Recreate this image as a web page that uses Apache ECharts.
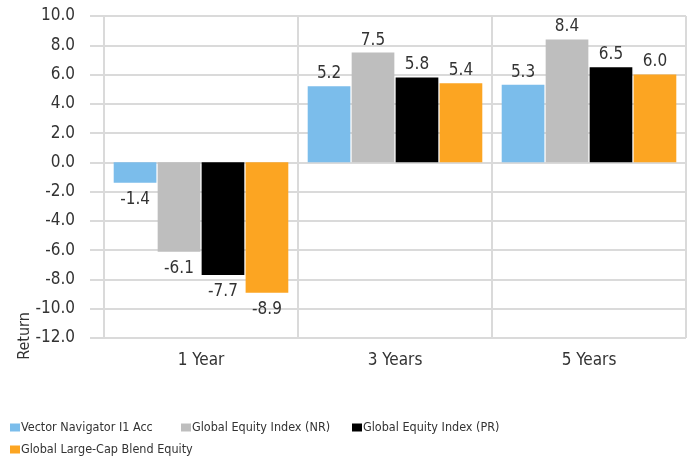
<!DOCTYPE html>
<html lang="en">
<head>
    <meta charset="UTF-8">
    <title>Returns</title>
    <script src="https://cdn.jsdelivr.net/npm/echarts@6/dist/echarts.min.js"></script>
    <style>
        html, body { margin: 0; padding: 0; background: #fff; }
        .chart { width: 697px; height: 457px; }
    </style>
</head>
<body>
<div class="chart"></div>
<script>
    const periods = ['1 Year', '3 Years', '5 Years'];
    const seriesNames = ['Vector Navigator I1 Acc', 'Global Equity Index (NR)', 'Global Equity Index (PR)', 'Global Large-Cap Blend Equity'];
    const fundValues = [-1.4, 5.2, 5.3];
    const nrValues = [-6.1, 7.5, 8.4];
    const prValues = [-7.7, 5.8, 6.5];
    const peerValues = [-8.9, 5.4, 6.0];
    const colors = ['#7bbdeb', '#bebebe', '#000000', '#fca522'];

    const font = '"DejaVu Sans Condensed", "Roboto", sans-serif';
    const gridColor = '#dadada';
    const values = [fundValues, nrValues, prValues, peerValues];

    let chart = echarts.init(document.querySelector('.chart'));

    // one legend per item so the positions match the original layout
    const legendPos = [[10, 421], [181, 421], [352, 421], [10, 443]];

    let option = {
        animation: false,
        textStyle: {fontFamily: font},
        legend: seriesNames.map((name, i) => ({
            data: [name],
            left: legendPos[i][0],
            top: legendPos[i][1],
            padding: 0,
            icon: 'rect',
            itemWidth: 10,
            itemHeight: 8,
            itemGap: 0,
            textStyle: {fontFamily: font, fontSize: 12.5, color: '#333', padding: [0, 0, 0, -4]}
        })),
        grid: {left: 104, right: 11, top: 16, bottom: 119, containLabel: false},
        graphic: [{
            type: 'text',
            x: 25,
            y: 336,
            rotation: Math.PI / 2,
            style: {
                text: 'Return',
                fontFamily: font,
                fontSize: 16,
                fill: '#333',
                textAlign: 'center',
                textVerticalAlign: 'middle'
            }
        }],
        xAxis: {
            type: 'category',
            data: periods,
            axisLine: {show: true, lineStyle: {color: gridColor, width: 2}},
            axisTick: {show: true, length: 50, lineStyle: {color: gridColor, width: 2}},
            splitLine: {show: true, lineStyle: {color: gridColor, width: 2}},
            axisLabel: {margin: 14, fontFamily: font, fontSize: 17, color: '#333'}
        },
        yAxis: {
            type: 'value',
            min: -12,
            max: 10,
            interval: 2,
            axisLine: {show: true, lineStyle: {color: gridColor, width: 2}},
            axisTick: {show: true, length: 14, lineStyle: {color: gridColor, width: 2}},
            splitLine: {show: true, lineStyle: {color: gridColor, width: 2}},
            axisLabel: {
                margin: 29,
                fontFamily: font,
                fontSize: 17,
                color: '#333',
                formatter: v => v.toFixed(1)
            }
        },
        series: seriesNames.map((name, i) => ({
            name,
            type: 'bar',
            barGap: '3%',
            barCategoryGap: '10%',
            itemStyle: {color: colors[i]},
            label: {
                show: true,
                fontFamily: font,
                fontSize: 17,
                color: '#333',
                formatter: p => p.value.toFixed(1)
            },
            data: values[i].map(v => ({
                value: v,
                label: {position: v < 0 ? 'bottom' : 'top', distance: v < 0 ? 8 : 4}
            }))
        }))
    };

    chart.setOption(option);
</script>
</body>
</html>
